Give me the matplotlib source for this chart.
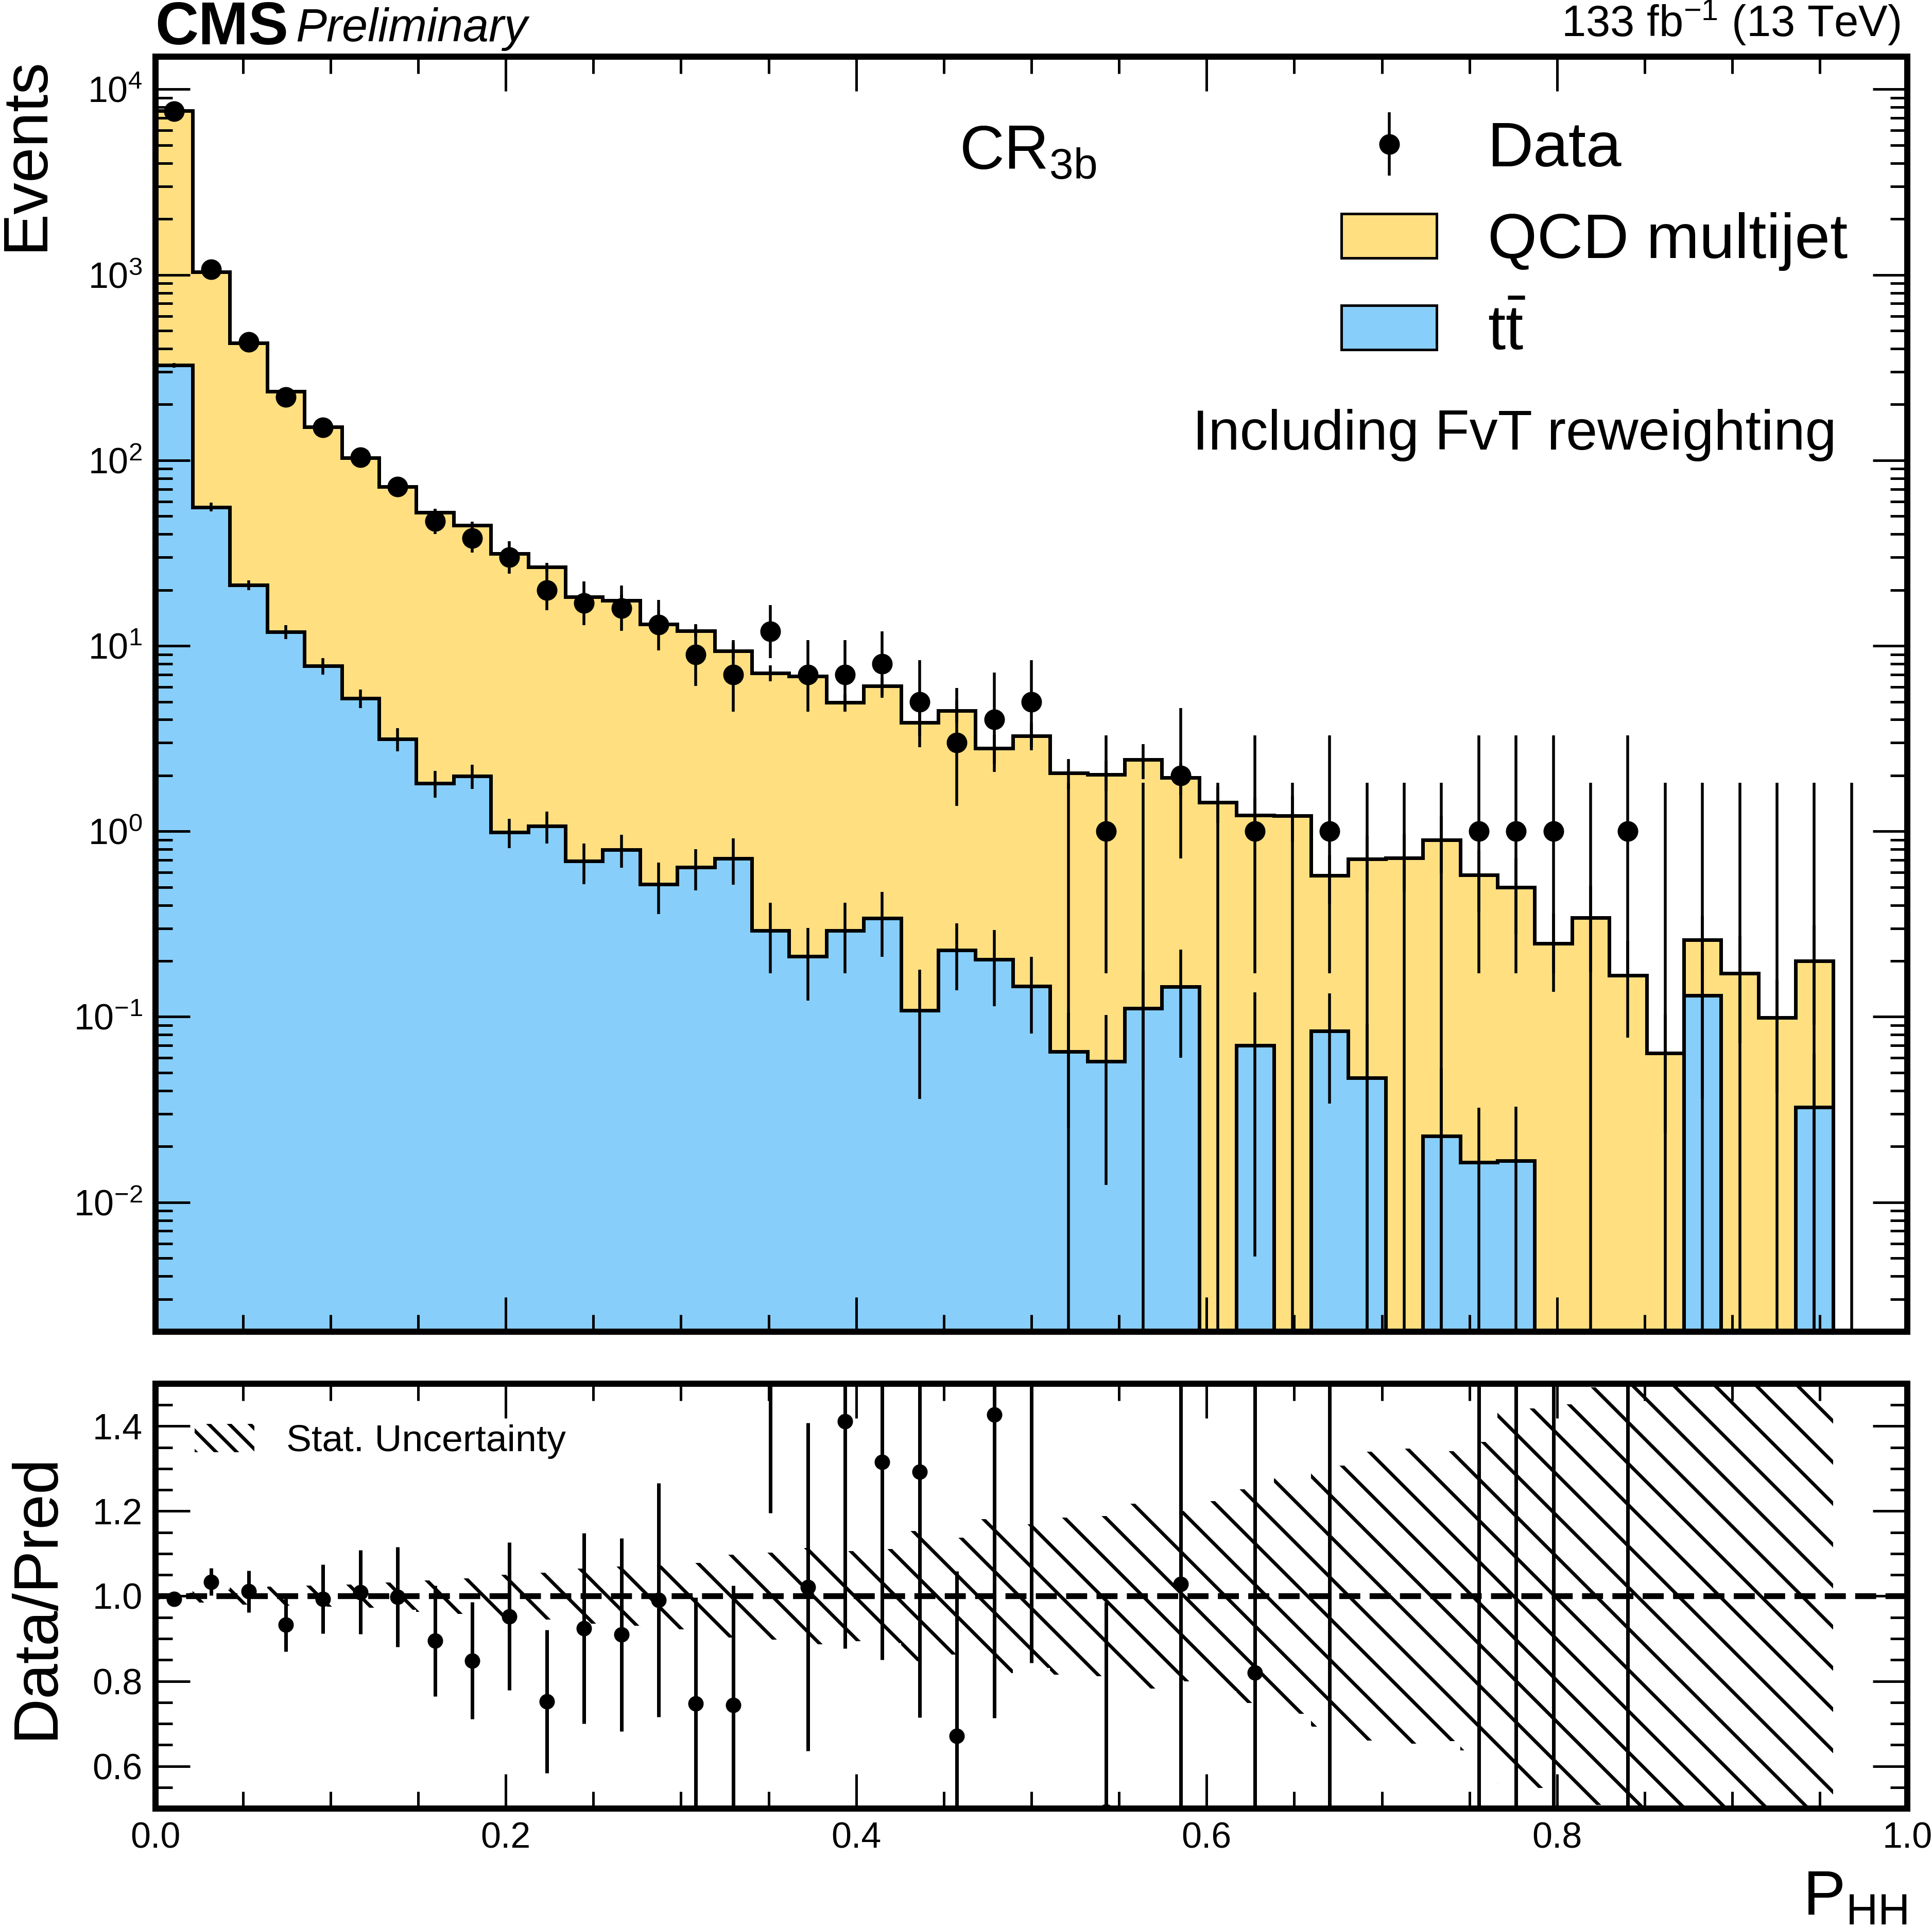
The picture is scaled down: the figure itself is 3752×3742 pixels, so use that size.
import numpy as np
import matplotlib
matplotlib.use("Agg")
import matplotlib.pyplot as plt
from matplotlib.patches import Patch
from matplotlib.ticker import MultipleLocator, LogLocator, NullFormatter, FormatStrFormatter

plt.rcParams["font.family"] = ["Liberation Sans", "DejaVu Sans"]
plt.rcParams["mathtext.fontset"] = "custom"
plt.rcParams["mathtext.rm"] = "Liberation Sans"
plt.rcParams["mathtext.it"] = "Liberation Sans:italic"
plt.rcParams["mathtext.bf"] = "Liberation Sans:bold"
plt.rcParams["hatch.linewidth"] = 2.0

# =====================================================
# DATOS
# =====================================================
bin_edges = np.arange(47) / 47.0   # 46 bins de ancho 1/47

data_counts = np.array([7600, 1070, 434, 220, 150, 104, 72, 47, 38, 30, 20, 17, 16, 13, 9, 7,
                        12, 7, 7, 8, 5, 3, 4, 5, 0, 1, 0, 2, 0, 1, 0, 1, 0, 0, 0, 1, 1, 1, 0, 1,
                        0, 0, 0, 0, 0, 0], dtype=float)

qcd = np.array([7325, 979, 408, 224, 143.2, 97.8, 69.0, 50.7, 42.8, 30.5, 25.5, 17.7, 16.8,
                12.6, 11.4, 8.7, 6.85, 6.64, 4.67, 5.74, 3.76, 4.24, 2.6, 3.13, 2.0, 1.97, 2.32,
                1.8, 1.43, 1.15, 1.21, 0.493, 0.663, 0.72, 0.877, 0.564, 0.483, 0.248, 0.342,
                0.167, 0.0637, 0.13, 0.172, 0.099, 0.168, 0])

ttbar = np.array([325, 56, 21.3, 11.9, 7.8, 5.22, 3.15, 1.82, 1.99, 0.99, 1.07, 0.69, 0.795,
                  0.518, 0.64, 0.714, 0.292, 0.212, 0.292, 0.34, 0.108, 0.229, 0.204, 0.146,
                  0.065, 0.0574, 0.111, 0.145, 0, 0.0701, 0, 0.084, 0.047, 0, 0.0227, 0.0164,
                  0.0168, 0, 0, 0, 0, 0.13, 0, 0, 0.0325, 0])

qcd_err = np.array([60, 15, 8.5, 5.1, 3.7, 2.8, 2.3, 1.9, 1.85, 1.57, 1.45, 1.19, 1.22, 0.93,
                    0.92, 0.9, 0.725, 0.77, 0.51, 0.66, 0.59, 0.61, 0.5, 0.55, 0.38, 0.38, 0.525,
                    0.38, 0.32, 0.3, 0.335, 0.17, 0.237, 0.25, 0.305, 0.21, 0.22, 0.112, 0.168,
                    0.09, 0.04, 0.09, 0.1, 0.06, 0.11, 0])

ttbar_err = np.array([10, 3, 1.3, 1.0, 0.8, 0.6, 0.45, 0.3, 0.3, 0.18, 0.21, 0.17, 0.16, 0.16,
                      0.16, 0.2, 0.12, 0.09, 0.12, 0.13, 0.072, 0.09, 0.09, 0.065, 0.04, 0.045,
                      0.065, 0.085, 0, 0.065, 0, 0.05, 0.045, 0, 0.03, 0.016, 0.016, 0, 0, 0, 0,
                      0.094, 0, 0, 0.031, 0])

COLOR_QCD = "#FFDF80"
COLOR_TT = "#87CEFA"
FLOOR = 1e-5


def poisson_interval(n):
    """Limites tipo Garwood (aprox. Wilson-Hilferty) para conteos."""
    n = np.asarray(n, dtype=float)
    m = np.maximum(n, 1)
    lo = np.where(n > 0, m * (1 - 1 / (9 * m) - 1 / (3 * np.sqrt(m))) ** 3, 0.0)
    hi = (n + 1) * (1 - 1 / (9 * (n + 1)) + 1 / (3 * np.sqrt(n + 1))) ** 3
    return lo, hi


def style_axis(ax):
    for sp in ax.spines.values():
        sp.set_linewidth(3.6)
    ax.tick_params(which="both", direction="in", top=True, right=True, width=1.5,
                   labelsize=21, pad=7.5)
    ax.tick_params(which="major", length=20)
    ax.tick_params(which="minor", length=10)


centers = 0.5 * (bin_edges[1:] + bin_edges[:-1])
total = qcd + ttbar

fig = plt.figure(figsize=(3752 / 240, 3742 / 240), dpi=240)
ax = fig.add_axes([0.0804, 0.3088, 0.9069, 0.6618])
ax2 = fig.add_axes([0.0804, 0.0614, 0.9069, 0.2206], sharex=ax)

# =====================================================
# PANEL PRINCIPAL
# =====================================================
ax.set_yscale("log")
ax.stairs(np.where(total > 0, total, FLOOR), bin_edges, baseline=FLOOR, fill=True,
          facecolor=COLOR_QCD, edgecolor="black", linewidth=2.1)
ax.stairs(np.where(ttbar > 0, ttbar, FLOOR), bin_edges, baseline=FLOOR, fill=True,
          facecolor=COLOR_TT, edgecolor="black", linewidth=2.1)

# errores estadisticos de MC en cada capa del stack
m_tt = ttbar > 0
ax.vlines(centers[m_tt], np.maximum(ttbar - ttbar_err, FLOOR)[m_tt], (ttbar + ttbar_err)[m_tt],
          colors="black", linewidth=1.65)
m_tot = total > 0
ax.vlines(centers[m_tot], np.maximum(total - qcd_err, FLOOR)[m_tot], (total + qcd_err)[m_tot],
          colors="black", linewidth=1.65)

# datos
lim_lo, lim_hi = poisson_interval(data_counts)
pos = data_counts > 0
yerr = [data_counts[pos] - lim_lo[pos], lim_hi[pos] - data_counts[pos]]
h_data = ax.errorbar(centers[pos], data_counts[pos], yerr=yerr, fmt="o", color="black",
                     markersize=11, elinewidth=1.65, capsize=0, zorder=4)
zero = ~pos
ax.vlines(centers[zero], FLOOR, lim_hi[zero], colors="black", linewidth=1.65, zorder=4)

ax.set_xlim(0, 1)
ax.set_ylim(2e-3, 1.5e4)
ax.yaxis.set_major_locator(LogLocator(base=10, numticks=20))
ax.yaxis.set_minor_locator(LogLocator(base=10, subs=np.arange(2, 10), numticks=20))
ax.yaxis.set_minor_formatter(NullFormatter())
ax.xaxis.set_major_locator(MultipleLocator(0.2))
ax.xaxis.set_minor_locator(MultipleLocator(0.05))
style_axis(ax)
ax.tick_params(labelbottom=False)

ax.set_ylabel("Events", fontsize=37, loc="top")
ax.yaxis.set_label_coords(-0.057, 1.0)

ax.text(0.0, 1.0097, "CMS", transform=ax.transAxes, fontsize=35, fontweight="bold",
        va="baseline")
ax.text(0.080, 1.012, "Preliminary", transform=ax.transAxes, fontsize=27, style="italic",
        va="baseline")
ax.text(0.9958, 1.0157, r"133 fb$^{-1}$ (13 TeV)", transform=ax.transAxes, fontsize=25.5,
        ha="right", va="baseline")
ax.text(0.459, 0.912, r"CR$_{\mathrm{3b}}$", transform=ax.transAxes, fontsize=36, va="baseline")
ax.text(0.592, 0.692, "Including FvT reweighting", transform=ax.transAxes, fontsize=33,
        va="baseline")

handles = [h_data,
           Patch(facecolor=COLOR_QCD, edgecolor="black", linewidth=1.5),
           Patch(facecolor=COLOR_TT, edgecolor="black", linewidth=1.5)]
labels = ["Data", "QCD multijet", r"$\mathrm{t\bar{t}}$"]
ax.legend(handles, labels, loc="upper left", bbox_to_anchor=(0.677, 0.950), frameon=False,
          fontsize=37, handlelength=1.5, handleheight=0.7, handletextpad=0.8,
          labelspacing=0.52, borderpad=0, borderaxespad=0)

# =====================================================
# PANEL DE RATIO
# =====================================================
has_pred = total > 0
n_pred = int(has_pred.sum())
rel_unc = np.sqrt(qcd_err[has_pred] ** 2 + ttbar_err[has_pred] ** 2) / total[has_pred]
ax2.stairs(1 + rel_unc, bin_edges[:n_pred + 1], baseline=1 - rel_unc, fill=True,
           hatch="\\", facecolor="none", edgecolor="black", linewidth=0)
ax2.axhline(1.0, color="black", linewidth=3.4, linestyle=(0, (3.6, 1.6)))

rmask = has_pred & pos
ratio = data_counts[rmask] / total[rmask]
ratio_err = np.sqrt(data_counts[rmask]) / total[rmask]
ax2.errorbar(centers[rmask], ratio, yerr=ratio_err, fmt="o", color="black", markersize=8,
             elinewidth=2.1, capsize=0, zorder=4)

ax2.set_ylim(0.5, 1.5)
ax2.yaxis.set_major_locator(MultipleLocator(0.2))
ax2.yaxis.set_minor_locator(MultipleLocator(0.05))
ax2.yaxis.set_major_formatter(FormatStrFormatter("%.1f"))
ax2.xaxis.set_major_formatter(FormatStrFormatter("%.1f"))
style_axis(ax2)

ax2.set_ylabel("Data/Pred", fontsize=37)
ax2.yaxis.set_label_coords(-0.051, 0.5)
ax2.set_xlabel(r"P$_{\mathrm{HH}}$", fontsize=37, loc="right")
ax2.xaxis.set_label_coords(1.0, -0.142)

ax2.legend([Patch(hatch="\\\\", facecolor="none", edgecolor="black", linewidth=0)],
           ["Stat. Uncertainty"], loc="upper left", bbox_to_anchor=(0.0225, 0.905),
           frameon=False, fontsize=22, handlelength=1.58, handleheight=0.78,
           handletextpad=0.84, borderpad=0, borderaxespad=0)

fig.savefig("out.png", dpi=240)
